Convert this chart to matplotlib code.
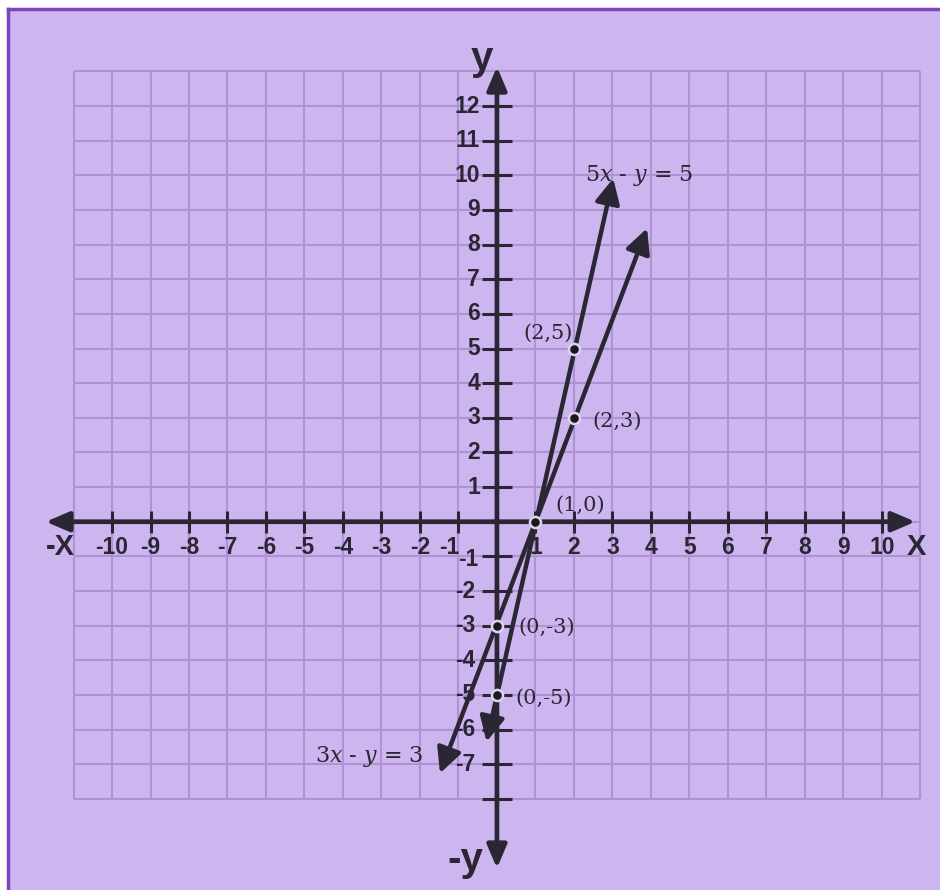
"""Two linear equations graphed on a lavender coordinate grid."""

import matplotlib

matplotlib.use("Agg")
import matplotlib.pyplot as plt
from matplotlib.lines import Line2D
from matplotlib.patches import FancyArrowPatch, Rectangle

plt.rcParams["mathtext.fontset"] = "dejavuserif"

# grid and axis ticks
grid_x = list(range(-11, 12))
grid_y = list(range(-8, 14))
x_ticks = [-10, -9, -8, -7, -6, -5, -4, -3, -2, -1, 1, 2, 3, 4, 5, 6, 7, 8, 9, 10]
y_ticks = [12, 11, 10, 9, 8, 7, 6, 5, 4, 3, 2, 1, -1, -2, -3, -4, -5, -6, -7, -8]
y_labelled = [12, 11, 10, 9, 8, 7, 6, 5, 4, 3, 2, 1, -1, -2, -3, -4, -5, -6, -7]

# the two lines, end points
line_5x_x = [-0.27, 3.02]
line_5x_y = [-6.35, 9.91]
line_3x_x = [-1.48, 3.90]
line_3x_y = [-7.26, 8.47]
eq_labels = ["5$x$ - $y$ = 5", "3$x$ - $y$ = 3"]

# marked points
pt_x = [2, 2, 1, 0, 0]
pt_y = [5, 3, 0, -3, -5]
pt_labels = ["(2,5)", "(2,3)", "(1,0)", "(0,-3)", "(0,-5)"]

BG = "#cdb6f0"
GRID = "#ae92d4"
INK = "#2b2633"
SANS = ["Liberation Sans", "DejaVu Sans"]
SERIF = ["DejaVu Serif"]

fig = plt.figure(figsize=(9.4, 8.9), dpi=100, facecolor="white")
fig.patches.append(Rectangle((10 / 940, 0), 1, 1 - 10 / 890, transform=fig.transFigure,
                             facecolor=BG, edgecolor="none", zorder=-5))
fig.lines.append(Line2D([8 / 940, 1], [1 - 9 / 890] * 2, transform=fig.transFigure,
                        color="#7c45bf", lw=2.5, zorder=-4))
fig.lines.append(Line2D([8 / 940] * 2, [0, 1 - 9 / 890], transform=fig.transFigure,
                        color="#7c45bf", lw=2.5, zorder=-4))

ax = fig.add_axes([0, 0, 1, 1])
ax.set_xlim(-12.91, 11.51)
ax.set_ylim(-10.63, 15.06)
ax.set_axis_off()
ax.patch.set_alpha(0)

# grid
ax.vlines(grid_x, grid_y[0], grid_y[-1], color=GRID, lw=1.5, zorder=1)
ax.hlines(grid_y, grid_x[0], grid_x[-1], color=GRID, lw=1.5, zorder=1)

# axes with arrow heads
axis_kw = dict(arrowstyle="<|-|>,head_length=14,head_width=6", mutation_scale=1,
               color=INK, lw=3.4, shrinkA=0, shrinkB=0, zorder=3)
ax.add_patch(FancyArrowPatch((-11.72, 0), (10.87, 0), **axis_kw))
ax.add_patch(FancyArrowPatch((0, -10.0), (0, 13.13), **axis_kw))

# tick marks
ax.vlines(x_ticks, -0.32, 0.32, color=INK, lw=2.2, zorder=3)
ax.hlines(y_ticks, -0.38, 0.38, color=INK, lw=2.2, zorder=3)

tick_kw = dict(fontsize=16.5, fontweight="bold", color=INK, family=SANS, zorder=4)
for v in x_ticks:
    xpos = v - 0.25 if v == -1 else v
    ax.text(xpos, -0.73, str(v), ha="center", va="center", **tick_kw)
for v in y_labelled:
    xpos = -0.44 if v > 0 else -0.57
    ypos = -1.1 if v == -1 else v
    ax.text(xpos + (0.08 if v == -1 else 0), ypos, str(v), ha="right", va="center", **tick_kw)

name_kw = dict(fontweight="bold", color=INK, family=SANS, zorder=4)
ax.text(-11.35, -0.73, "-X", ha="center", va="center", fontsize=21, **name_kw)
ax.text(10.91, -0.73, "X", ha="center", va="center", fontsize=21, **name_kw)
ax.text(-0.38, 13.36, "y", ha="center", va="center", fontsize=29, **name_kw)
ax.text(-0.83, -9.77, "-y", ha="center", va="center", fontsize=29, **name_kw)

# the equations' lines
line_kw = dict(arrowstyle="<|-|>,head_length=15,head_width=7.5", mutation_scale=1,
               color=INK, lw=3.2, shrinkA=0, shrinkB=0, zorder=5)
ax.add_patch(FancyArrowPatch((line_5x_x[0], line_5x_y[0]), (line_5x_x[1], line_5x_y[1]), **line_kw))
ax.add_patch(FancyArrowPatch((line_3x_x[0], line_3x_y[0]), (line_3x_x[1], line_3x_y[1]), **line_kw))

ax.plot(pt_x, pt_y, "o", ms=8, color="#1c1a20", mec="#ddd3ec", mew=1.8, zorder=6)

lab_kw = dict(fontsize=15, color=INK, family=SERIF, va="center", zorder=6)
ax.text(1.97, 5.44, pt_labels[0], ha="right", **lab_kw)
ax.text(2.49, 2.89, pt_labels[1], ha="left", **lab_kw)
ax.text(1.51, 0.48, pt_labels[2], ha="left", **lab_kw)
ax.text(0.55, -3.04, pt_labels[3], ha="left", **lab_kw)
ax.text(0.47, -5.09, pt_labels[4], ha="left", **lab_kw)

eq_kw = dict(fontsize=16, color=INK, family=SERIF, va="center", ha="left", zorder=6)
ax.text(2.29, 9.99, eq_labels[0], **eq_kw)
ax.text(-4.73, -6.78, eq_labels[1], **eq_kw)

fig.savefig("out.png", dpi=100, facecolor=fig.get_facecolor())
plt.close(fig)
